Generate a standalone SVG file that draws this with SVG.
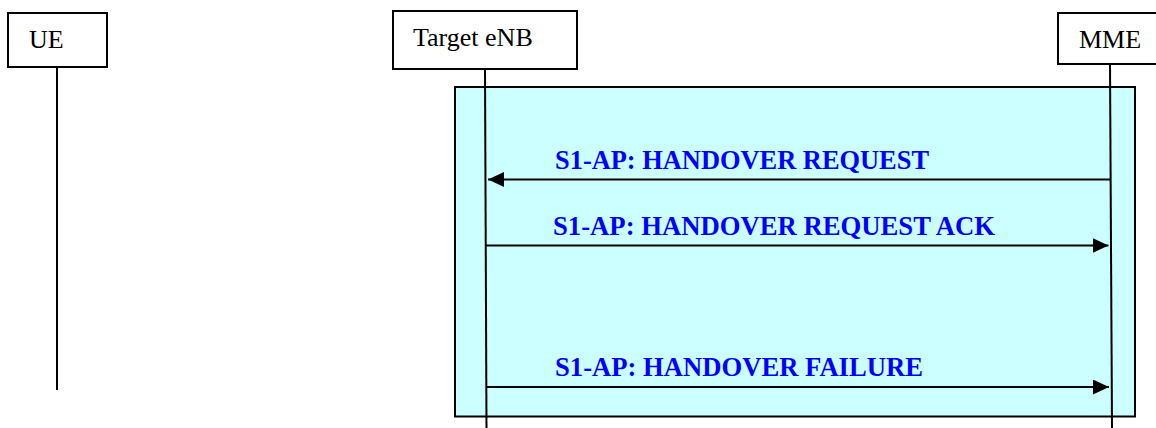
<svg xmlns="http://www.w3.org/2000/svg" width="1156" height="428" viewBox="0 0 1156 428">
<defs>
<style>
.box{fill:#ffffff;stroke:#000000;stroke-width:2}
.life{stroke:#000000;stroke-width:2;fill:none}
.name{font-family:"Liberation Serif","Times New Roman",serif;font-size:26px;fill:#000000}
.msg{font-family:"Liberation Serif","Times New Roman",serif;font-size:27px;font-weight:bold;fill:#0000ff}
.arrow{stroke:#000000;stroke-width:2;fill:none}
</style>
<marker id="ah" viewBox="0 0 16 15" refX="16" refY="7.5" markerWidth="16" markerHeight="15" markerUnits="userSpaceOnUse" orient="auto">
<path d="M0,0 L16,7.5 L0,15 Z" fill="#000000"/>
</marker>
</defs>
<rect id="frame" x="455" y="87" width="680" height="329.5" fill="#ccffff" stroke="#000000" stroke-width="2"/>
<g id="ue">
<rect class="box" x="8" y="13" width="99" height="54"/>
<text class="name" x="29" y="48">UE</text>
<line class="life" x1="57" y1="67" x2="57" y2="390"/>
</g>
<g id="enb">
<rect class="box" x="393" y="11" width="184" height="58"/>
<text class="name" x="413" y="46">Target eNB</text>
<line class="life" x1="485" y1="69" x2="486.5" y2="428"/>
</g>
<g id="mme">
<rect class="box" x="1058" y="13" width="100" height="51"/>
<text class="name" x="1079" y="48">MME</text>
<line class="life" x1="1110" y1="64" x2="1112" y2="428"/>
</g>
<g id="connectors">
<line class="arrow" x1="1110.5" y1="179.5" x2="488" y2="179.5" marker-end="url(#ah)"/>
<text class="msg" x="555" y="169" textLength="374" lengthAdjust="spacingAndGlyphs">S1-AP: HANDOVER REQUEST</text>
<line class="arrow" x1="485.5" y1="245.5" x2="1108.5" y2="245.5" marker-end="url(#ah)"/>
<text class="msg" x="553" y="235" textLength="442" lengthAdjust="spacingAndGlyphs">S1-AP: HANDOVER REQUEST ACK</text>
<line class="arrow" x1="486" y1="387" x2="1109" y2="387" marker-end="url(#ah)"/>
<text class="msg" x="555" y="376" textLength="368" lengthAdjust="spacingAndGlyphs">S1-AP: HANDOVER FAILURE</text>
</g>
</svg>
